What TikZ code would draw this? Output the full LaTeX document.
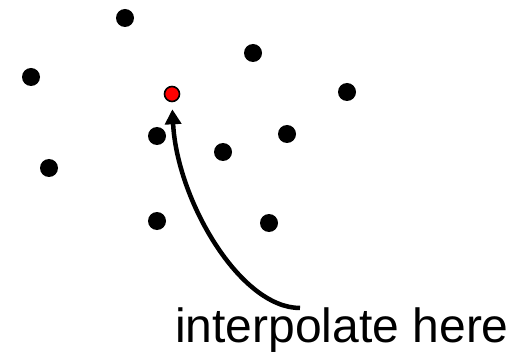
\documentclass[tikz,border=0pt]{standalone}
\usepackage{fontspec}
\setmainfont{Liberation Sans}
\usepackage{tikz}
\usetikzlibrary{arrows.meta,positioning}
\definecolor{qCol}{HTML}{FF0000}
\tikzset{
  sample/.style={circle, fill=black, inner sep=0pt, minimum size=18pt},
  query/.style={circle, fill=qCol, draw=black, line width=1.6pt, inner sep=0pt, minimum size=15pt},
  pointer/.style={-{Triangle[length=15pt,width=16pt]}, line width=4.5pt},
  caption/.style={font=\fontsize{48}{54}\selectfont, inner sep=0pt, anchor=base},
}
\begin{document}
\begin{tikzpicture}[x=1pt,y=-1pt]
  \useasboundingbox (0,0) rectangle (526,355);
  % scattered samples
  \node[sample] (s1) at (125,18) {};
  \node[sample] (s2) at (253,53) {};
  \node[sample] (s3) at (31,77) {};
  \node[sample] (s4) at (347,92) {};
  \node[sample] (s5) at (157,136) {};
  \node[sample] (s6) at (287,134) {};
  \node[sample] (s7) at (223,152) {};
  \node[sample] (s8) at (49,168) {};
  \node[sample] (s9) at (157,221) {};
  \node[sample] (s10) at (269,223) {};
  % the point to estimate
  \node[query] (q) at (172,94) {};
  \node[caption] (lbl) at (342,342) {interpolate here};
  \coordinate (src) at (300,308);
  \draw[pointer, shorten >=7pt] (src) .. controls (240,308) and (177,200) .. (q.south);
\end{tikzpicture}
\end{document}
